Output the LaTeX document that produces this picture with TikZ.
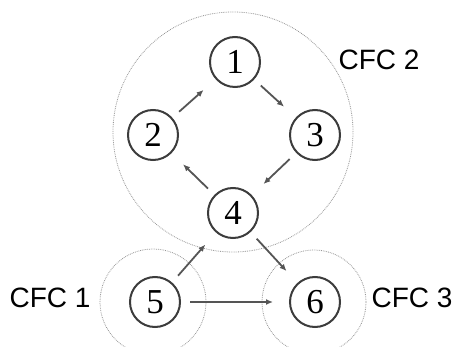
\documentclass[tikz,border=0pt]{standalone}
\usepackage{fontspec}
\setmainfont{Liberation Serif}
\newfontfamily\cfcsans{Liberation Sans}
\usetikzlibrary{arrows.meta,positioning}
\definecolor{CfcInk}{RGB}{60,60,60}
\definecolor{CfcArrow}{RGB}{85,85,85}
\definecolor{CfcDots}{RGB}{150,150,150}
\tikzset{
  cfc/state/.style={
    circle,
    draw=CfcInk,
    line width=2pt,
    fill=white,
    minimum size=50pt,
    inner sep=0pt,
    font=\fontsize{35}{37}\selectfont
  },
  cfc/region/.style={
    circle,
    draw=CfcDots,
    densely dotted,
    line width=0.8pt,
    inner sep=0pt
  },
  cfc/arrow/.style={-{Latex[length=7pt,width=6pt]}, line width=1.8pt, draw=CfcArrow, shorten <=9pt, shorten >=16pt},
  cfc/label/.style={font=\cfcsans\fontsize{28}{30}\selectfont, text=black}
}
\begin{document}
\begin{tikzpicture}[x=1pt,y=-1pt]
  \useasboundingbox (0,0) rectangle (458,347);
  % components
  \node[cfc/region,minimum size=240pt] (cfc2) at (233,132) {};
  \node[cfc/region,minimum size=106pt] (cfc1) at (153,302) {};
  \node[cfc/region,minimum size=104pt] (cfc3) at (314,302) {};
  % states
  \node[cfc/state] (n1) at (235,62) {1};
  \node[cfc/state] (n2) at (153,135) {2};
  \node[cfc/state] (n3) at (315,135) {3};
  \node[cfc/state] (n4) at (233,213) {4};
  \node[cfc/state] (n5) at (155,302) {5};
  \node[cfc/state] (n6) at (315,302) {6};
  \draw[cfc/arrow] (n2) -- (n1);
  \draw[cfc/arrow] (n1) -- (n3);
  \draw[cfc/arrow] (n3) -- (n4);
  \draw[cfc/arrow] (n4) -- (n2);
  \draw[cfc/arrow] (n5) -- (n4);
  \draw[cfc/arrow] (n4) -- (n6);
  \draw[cfc/arrow] (n5) -- (n6);
  \node[cfc/label] (l2) at (379,60) {CFC 2};
  \node[cfc/label] (l1) at (50,298) {CFC 1};
  \node[cfc/label] (l3) at (412,298) {CFC 3};
\end{tikzpicture}
\end{document}
